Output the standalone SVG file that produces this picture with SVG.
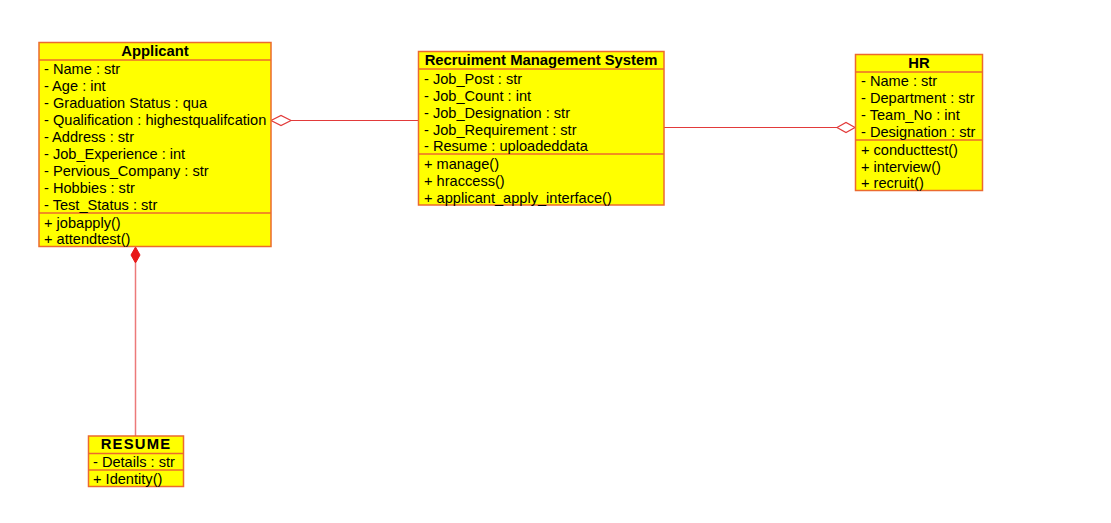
<svg xmlns="http://www.w3.org/2000/svg" width="1111" height="523" viewBox="0 0 1111 523">
<style>
.box{fill:#FFFF00;stroke:#EC6A2E;stroke-width:1.5}
.div{stroke:#EC6A2E;stroke-width:1.5}
.t{font-family:"Liberation Sans",Arial,sans-serif;font-size:14.6px;fill:#000}
.h{font-family:"Liberation Sans",Arial,sans-serif;font-size:14.8px;font-weight:bold;fill:#000;text-anchor:middle}
.c{stroke:#E23A3A;stroke-width:1.2;fill:none}
</style>
<rect width="1111" height="523" fill="#fff"/>
<g id="connectors">
<line class="c" x1="291" y1="120.5" x2="418.5" y2="120.5"/>
<polygon points="271,120.5 281,115.5 291,120.5 281,125.5" fill="#fff" stroke="#E23A3A" stroke-width="1.2"/>
<line class="c" x1="664" y1="127.5" x2="837" y2="127.5"/>
<polygon points="837,127.5 846,122.5 855,127.5 846,132.5" fill="#fff" stroke="#E23A3A" stroke-width="1.2"/>
<line x1="135.5" y1="263" x2="135.5" y2="436" stroke="#EC7A7A" stroke-width="1.5"/>
<polygon points="135.5,247 140,255 135.5,263 131,255" fill="#E81818" stroke="#E81818" stroke-width="1"/>
</g>
<g id="applicant">
<rect class="box" x="39" y="42.5" width="232" height="204"/>
<line class="div" x1="39" y1="60" x2="271" y2="60"/>
<line class="div" x1="39" y1="213" x2="271" y2="213"/>
<text class="h" x="155" y="55.5">Applicant</text>
<text class="t" x="44" y="73.5">- Name : str</text>
<text class="t" x="44" y="90.5">- Age : int</text>
<text class="t" x="44" y="107.5">- Graduation Status : qua</text>
<text class="t" x="44" y="124.5">- Qualification : highestqualifcation</text>
<text class="t" x="44" y="141.5">- Address : str</text>
<text class="t" x="44" y="158.5">- Job_Experience : int</text>
<text class="t" x="44" y="175.5">- Pervious_Company : str</text>
<text class="t" x="44" y="192.5">- Hobbies : str</text>
<text class="t" x="44" y="209.5">- Test_Status : str</text>
<text class="t" x="44" y="227.5">+ jobapply()</text>
<text class="t" x="44" y="244">+ attendtest()</text>
</g>
<g id="rms">
<rect class="box" x="418.5" y="51.5" width="245.5" height="153.5"/>
<line class="div" x1="418.5" y1="69" x2="664" y2="69"/>
<line class="div" x1="418.5" y1="154" x2="664" y2="154"/>
<text class="h" x="541" y="65">Recruiment Management System</text>
<text class="t" x="424" y="83.5">- Job_Post : str</text>
<text class="t" x="424" y="100.5">- Job_Count : int</text>
<text class="t" x="424" y="117.5">- Job_Designation : str</text>
<text class="t" x="424" y="134.5">- Job_Requirement : str</text>
<text class="t" x="424" y="151">- Resume : uploadeddata</text>
<text class="t" x="424" y="168.5">+ manage()</text>
<text class="t" x="424" y="185.5">+ hraccess()</text>
<text class="t" x="424" y="202.5">+ applicant_apply_interface()</text>
</g>
<g id="hr">
<rect class="box" x="855.5" y="54.5" width="127" height="136"/>
<line class="div" x1="855.5" y1="72" x2="982.5" y2="72"/>
<line class="div" x1="855.5" y1="140" x2="982.5" y2="140"/>
<text class="h" x="919" y="68">HR</text>
<text class="t" x="861" y="85.5">- Name : str</text>
<text class="t" x="861" y="102.5">- Department : str</text>
<text class="t" x="861" y="119.5">- Team_No : int</text>
<text class="t" x="861" y="137">- Designation : str</text>
<text class="t" x="861" y="154.5">+ conducttest()</text>
<text class="t" x="861" y="171.5">+ interview()</text>
<text class="t" x="861" y="187.5">+ recruit()</text>
</g>
<g id="resume">
<rect class="box" x="88.5" y="436" width="95" height="50.5"/>
<line class="div" x1="88.5" y1="453.5" x2="183.5" y2="453.5"/>
<line class="div" x1="88.5" y1="470" x2="183.5" y2="470"/>
<text class="h" x="136" y="448.5" letter-spacing="1.2">RESUME</text>
<text class="t" x="93" y="466.5">- Details : str</text>
<text class="t" x="93" y="484">+ Identity()</text>
</g>
</svg>
